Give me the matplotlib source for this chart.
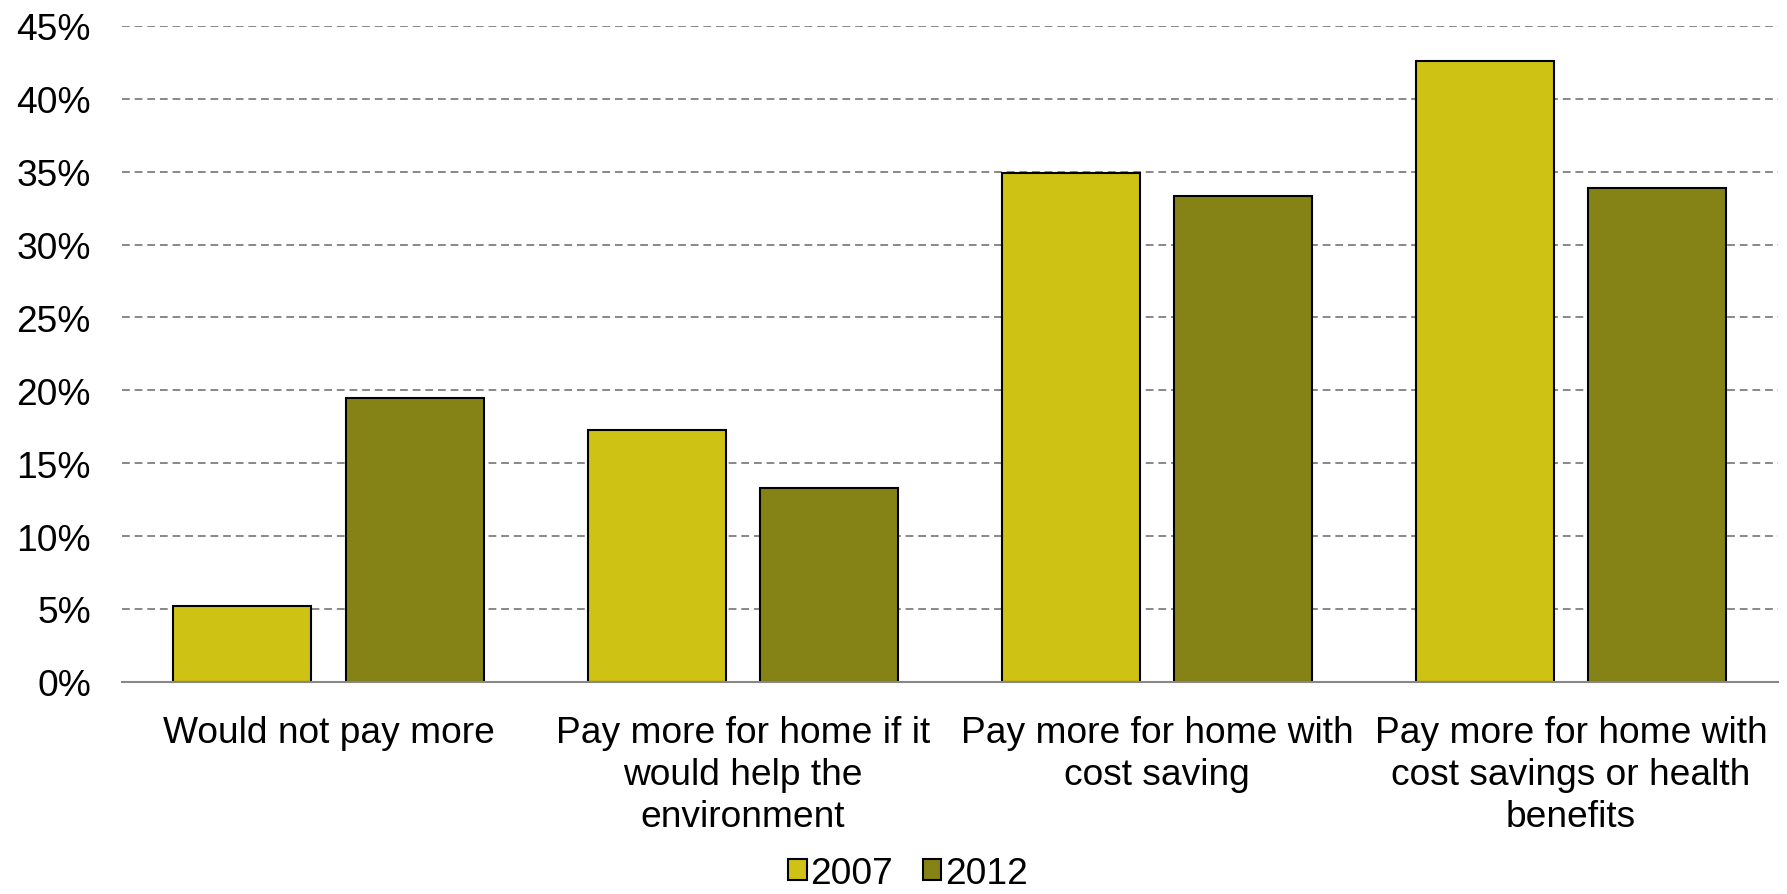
import matplotlib
matplotlib.use("Agg")
import numpy as np
import matplotlib.pyplot as plt
from matplotlib.patches import Patch
from matplotlib.ticker import PercentFormatter

categories = [
    "Would not pay more",
    "Pay more for home if it\nwould help the\nenvironment",
    "Pay more for home with\ncost saving",
    "Pay more for home with\ncost savings or health\nbenefits",
]
years = ["2007", "2012"]
values_2007 = [5.2, 17.3, 34.9, 42.6]
values_2012 = [19.5, 13.3, 33.3, 33.9]
yticks = [0, 5, 10, 15, 20, 25, 30, 35, 40, 45]

color_2007 = "#CEC214"
color_2012 = "#868316"

plt.rcParams["font.family"] = ["Liberation Sans", "DejaVu Sans"]

fig = plt.figure(figsize=(17.87, 8.95), dpi=100)
ax = fig.add_axes([0.068, 0.237, 0.927, 0.733])

x = np.arange(len(categories))
w = 0.333
off = 0.208
ax.bar(x - off, values_2007, w, color=color_2007, edgecolor="black", linewidth=1.5, zorder=3)
ax.bar(x + off, values_2012, w, color=color_2012, edgecolor="black", linewidth=1.5, zorder=3)

ax.set_xlim(-0.5, len(categories) - 0.5)
ax.set_ylim(0, 45)
ax.set_yticks(yticks)
ax.yaxis.set_major_formatter(PercentFormatter(decimals=0))
ax.set_xticks(x)
ax.set_xticklabels(categories, fontsize=26.7, linespacing=1.26)
ax.tick_params(axis="y", labelsize=26.7, length=0, pad=22)
ax.tick_params(axis="x", length=0, pad=24)

ax.grid(axis="y", color="#888888", linestyle=(0, (4, 2.5)), linewidth=1.4, zorder=0)
for s in ["top", "right", "left"]:
    ax.spines[s].set_visible(False)
ax.spines["bottom"].set_color("#888888")
ax.spines["bottom"].set_linewidth(1.5)
ax.spines["bottom"].set_zorder(4)

handles = [Patch(facecolor=color_2007, edgecolor="black", linewidth=1.5),
           Patch(facecolor=color_2012, edgecolor="black", linewidth=1.5)]
fig.legend(handles, years, loc="center", bbox_to_anchor=(0.508, 0.023),
           ncol=2, frameon=False, fontsize=26.7, handlelength=0.5, handleheight=0.5,
           handletextpad=0.1, columnspacing=0.8, borderpad=0)

fig.savefig("out.png", dpi=100)
